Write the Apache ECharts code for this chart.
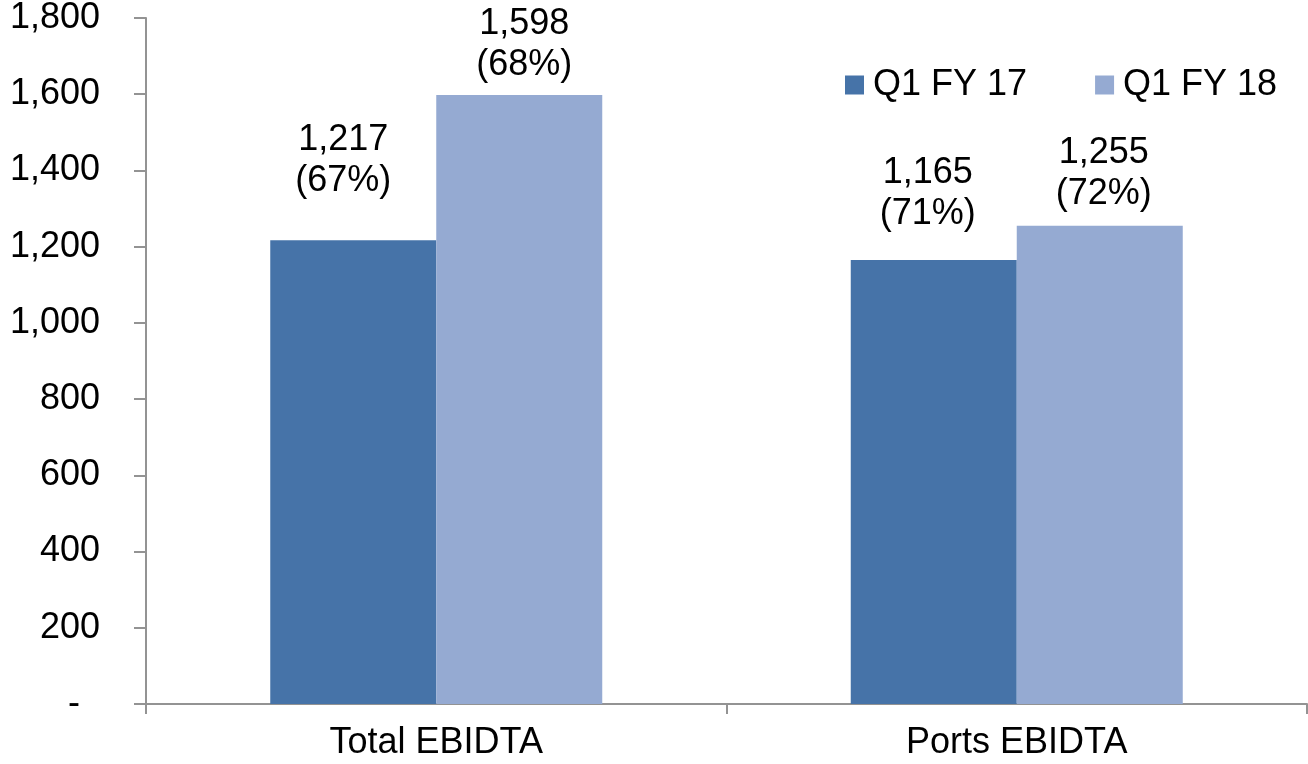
<!DOCTYPE html>
<html>
<head>
<meta charset="utf-8">
<script src="https://cdn.jsdelivr.net/npm/echarts@6/dist/echarts.min.js"></script>
<style>
    html, body { margin: 0; padding: 0; background: #fff; }
    #chart { width: 1308px; height: 764px; }
</style>
</head>
<body>
<div id="chart"></div>
<script>
var categories = ['Total EBIDTA', 'Ports EBIDTA'];
var seriesNames = ['Q1 FY 17', 'Q1 FY 18'];
var fy17Values = [1217, 1165];
var fy18Values = [1598, 1255];
var fy17Share = [67, 71];
var fy18Share = [68, 72];
var yTicks = [0, 200, 400, 600, 800, 1000, 1200, 1400, 1600, 1800];

// label nudges (the source placed its labels by hand)
var fy17LabelDist = [39, 25];
var fy17LabelDx = [-10, -6];
var fy18LabelDist = [9, 11];
var fy18LabelDx = [5, 4];

var font = '"Liberation Sans", Arial, sans-serif';

function fmt(n) {
    return n.toLocaleString('en-US');
}

function buildData(values, shares, dist, dx) {
    return values.map(function (v, i) {
        return {
            value: v,
            share: shares[i],
            label: { distance: dist[i], offset: [dx[i], 0] }
        };
    });
}

var chart = echarts.init(document.getElementById('chart'));

var labelCfg = {
    show: true,
    position: 'top',
    color: '#000',
    fontFamily: font,
    fontSize: 36,
    lineHeight: 41,
    align: 'center',
    formatter: function (p) {
        return fmt(p.value) + '\n(' + p.data.share + '%)';
    }
};

chart.setOption({
    animation: false,
    grid: { left: 146, right: 1, top: 17, bottom: 60 },
    legend: {
        data: seriesNames,
        left: 840,
        top: 62,
        itemWidth: 19,
        itemHeight: 19,
        itemGap: 68,
        icon: 'rect',
        textStyle: { fontFamily: font, fontSize: 36, color: '#000', padding: [0, 0, 0, 4] }
    },
    xAxis: {
        type: 'category',
        data: categories,
        axisLine: { lineStyle: { color: '#939393', width: 2 } },
        axisTick: { show: true, length: 10, lineStyle: { color: '#939393', width: 2 } },
        axisLabel: { fontFamily: font, fontSize: 36, color: '#000', margin: 21 }
    },
    yAxis: {
        type: 'value',
        min: yTicks[0],
        max: yTicks[yTicks.length - 1],
        interval: yTicks[1] - yTicks[0],
        splitLine: { show: false },
        axisLine: { show: true, lineStyle: { color: '#939393', width: 2 } },
        axisTick: { show: true, length: 12, lineStyle: { color: '#939393', width: 2 } },
        axisLabel: {
            fontFamily: font,
            fontSize: 36,
            color: '#000',
            margin: 46,
            formatter: function (v) {
                return v === 0 ? '-  ' : fmt(v);
            }
        }
    },
    series: [
        {
            name: seriesNames[0],
            type: 'bar',
            barWidth: 166,
            barGap: '0%',
            itemStyle: { color: '#4673A8' },
            label: labelCfg,
            data: buildData(fy17Values, fy17Share, fy17LabelDist, fy17LabelDx)
        },
        {
            name: seriesNames[1],
            type: 'bar',
            barWidth: 166,
            barGap: '0%',
            itemStyle: { color: '#95AAD2' },
            label: labelCfg,
            data: buildData(fy18Values, fy18Share, fy18LabelDist, fy18LabelDx)
        }
    ]
});

window.addEventListener('resize', function () {
    chart.resize();
});
</script>
</body>
</html>
